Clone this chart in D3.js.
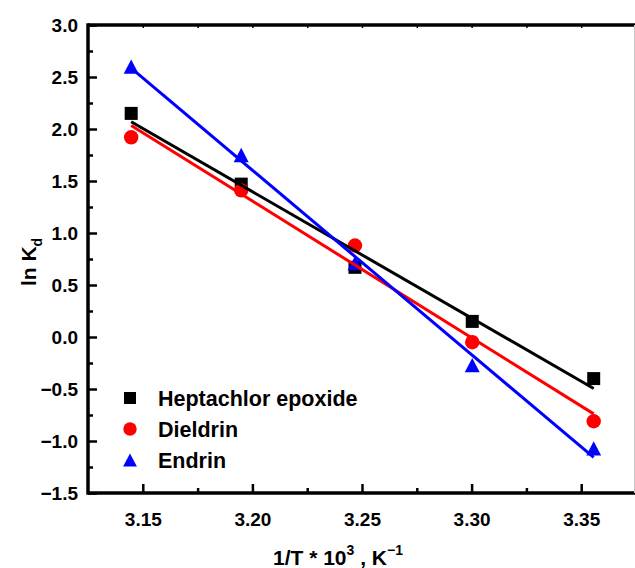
<!DOCTYPE html>
<html>
<head>
<meta charset="utf-8">
<script src="https://cdn.jsdelivr.net/npm/d3@7"></script>
<style>
  body { margin: 0; background: #fff; }
  svg { display: block; font-family: "Liberation Sans", Arial, sans-serif; font-weight: bold; }
</style>
</head>
<body>
<div id="chart"></div>
<script>
// 1/T * 10^3 for 318, 313, 308, 303, 298 K
const invT = [3.1447, 3.1949, 3.2468, 3.3003, 3.3557];
const heptachlor = [2.15, 1.47, 0.67, 0.15, -0.40];
const dieldrin = [1.92, 1.41, 0.88, -0.05, -0.81];
const endrin = [2.60, 1.75, 0.71, -0.27, -1.07];

const seriesNames = ["Heptachlor epoxide", "Dieldrin", "Endrin"];
const seriesColors = ["#000000", "#ff0000", "#0000ff"];
const seriesSymbols = ["square", "circle", "triangle"];

const xTicks = [3.15, 3.20, 3.25, 3.30, 3.35];
const yTicks = [-1.5, -1.0, -0.5, 0.0, 0.5, 1.0, 1.5, 2.0, 2.5, 3.0];

const width = 635, height = 568;
const margin = { top: 25, left: 88, bottom: 493, right: 636 };

const svg = d3.select("#chart").append("svg")
  .attr("width", width)
  .attr("height", height);

const x = d3.scaleLinear().domain([3.125, 3.375]).range([margin.left, margin.right]);
const y = d3.scaleLinear().domain([-1.5, 3.0]).range([margin.bottom, margin.top]);

// least squares line for each series
function fit(xs, ys) {
  const mx = d3.mean(xs), my = d3.mean(ys);
  let sxy = 0, sxx = 0;
  xs.forEach((v, i) => { sxy += (v - mx) * (ys[i] - my); sxx += (v - mx) * (v - mx); });
  const b = sxy / sxx;
  return v => my + b * (v - mx);
}

const data = [heptachlor, dieldrin, endrin].map((vals, i) => ({
  name: seriesNames[i],
  color: seriesColors[i],
  symbol: seriesSymbols[i],
  points: vals.map((v, j) => ({ x: invT[j], y: v }))
}));

function drawSymbol(g, type, cx, cy, color, s) {
  if (type === "square") {
    g.append("rect").attr("x", cx - s / 2).attr("y", cy - s / 2)
      .attr("width", s).attr("height", s).attr("fill", color);
  } else if (type === "circle") {
    g.append("circle").attr("cx", cx).attr("cy", cy).attr("r", s / 2 + 0.7).attr("fill", color);
  } else {
    const h = s * 1.1, w = s * 1.15;
    g.append("path")
      .attr("d", `M${cx},${cy - h / 2}L${cx + w / 2},${cy + h / 2}L${cx - w / 2},${cy + h / 2}Z`)
      .attr("fill", color);
  }
}

// markers
const markers = svg.append("g");
data.forEach(s => {
  s.points.forEach(p => drawSymbol(markers, s.symbol, x(p.x), y(p.y), s.color, 13));
});

// fitted lines
const lines = svg.append("g");
[1, 0, 2].forEach(i => {
  const s = data[i];
  const f = fit(invT, s.points.map(p => p.y));
  const x0 = d3.min(invT), x1 = d3.max(invT);
  lines.append("line")
    .attr("x1", x(x0)).attr("y1", y(f(x0)))
    .attr("x2", x(x1)).attr("y2", y(f(x1)))
    .attr("stroke", s.color)
    .attr("stroke-width", 3);
});

// axes
const xAxis = d3.axisBottom(x).tickValues(xTicks).tickSize(-9).tickPadding(20)
  .tickFormat(d3.format(".2f"));
const xMinor = d3.axisBottom(x).tickValues(d3.range(3.175, 3.38, 0.05)).tickSize(-5).tickFormat("");
const yAxis = d3.axisLeft(y).tickValues(yTicks).tickSize(-9).tickPadding(10)
  .tickFormat(d3.format(".1f"));
const yMinor = d3.axisLeft(y).tickValues(d3.range(-1.25, 3.0, 0.5)).tickSize(-5).tickFormat("");
const topTicks = d3.axisTop(x).tickValues(d3.range(3.15, 3.38, 0.025)).tickSize(-3).tickFormat("");

function styleAxis(g) {
  g.select(".domain").remove();
  g.selectAll(".tick line").attr("stroke", "#000").attr("stroke-width", 2.5);
  g.selectAll(".tick text").attr("fill", "#000")
    .style("font-size", "19px").style("font-weight", "bold");
}

svg.append("g").attr("transform", `translate(0,${margin.bottom})`).call(xAxis).call(styleAxis);
svg.append("g").attr("transform", `translate(0,${margin.bottom})`).call(xMinor).call(styleAxis);
svg.append("g").attr("transform", `translate(${margin.left},0)`).call(yAxis).call(styleAxis);
svg.append("g").attr("transform", `translate(${margin.left},0)`).call(yMinor).call(styleAxis);
svg.append("g").attr("transform", `translate(0,${margin.top})`).call(topTicks).call(styleAxis)
  .selectAll(".tick line").attr("stroke-width", 1.5);

// frame
svg.append("line").attr("x1", margin.left).attr("x2", width)
  .attr("y1", margin.bottom).attr("y2", margin.bottom)
  .attr("stroke", "#000").attr("stroke-width", 3.5);
svg.append("line").attr("x1", margin.left).attr("x2", width)
  .attr("y1", margin.top).attr("y2", margin.top)
  .attr("stroke", "#000").attr("stroke-width", 3.5);
svg.append("line").attr("x1", margin.left).attr("x2", margin.left)
  .attr("y1", margin.top - 1.75).attr("y2", margin.bottom + 1.75)
  .attr("stroke", "#000").attr("stroke-width", 3.5);
svg.append("line").attr("x1", 634.5).attr("x2", 634.5)
  .attr("y1", margin.top).attr("y2", margin.bottom)
  .attr("stroke", "#c8c8c8").attr("stroke-width", 1);

// legend
const legend = svg.append("g");
data.forEach((s, i) => {
  const ly = 398 + i * 31;
  drawSymbol(legend, s.symbol, 130, ly, s.color, 12);
  legend.append("text")
    .attr("x", 158).attr("y", ly + 8)
    .style("font-size", "21.5px")
    .text(s.name);
});

// axis titles
const xt = svg.append("text")
  .attr("x", 273).attr("y", 565)
  .style("font-size", "21px");
xt.append("tspan").text("1/T * 10");
xt.append("tspan").attr("dy", -10).style("font-size", "14px").text("3");
xt.append("tspan").attr("dy", 10).text(" , K");
xt.append("tspan").attr("dy", -10).style("font-size", "14px").text("\u22121");

const yt = svg.append("text")
  .attr("transform", "translate(36,262) rotate(-90)")
  .attr("text-anchor", "middle")
  .style("font-size", "21px");
yt.append("tspan").text("ln K");
yt.append("tspan").attr("dy", 6).style("font-size", "14px").text("d");
</script>
</body>
</html>
